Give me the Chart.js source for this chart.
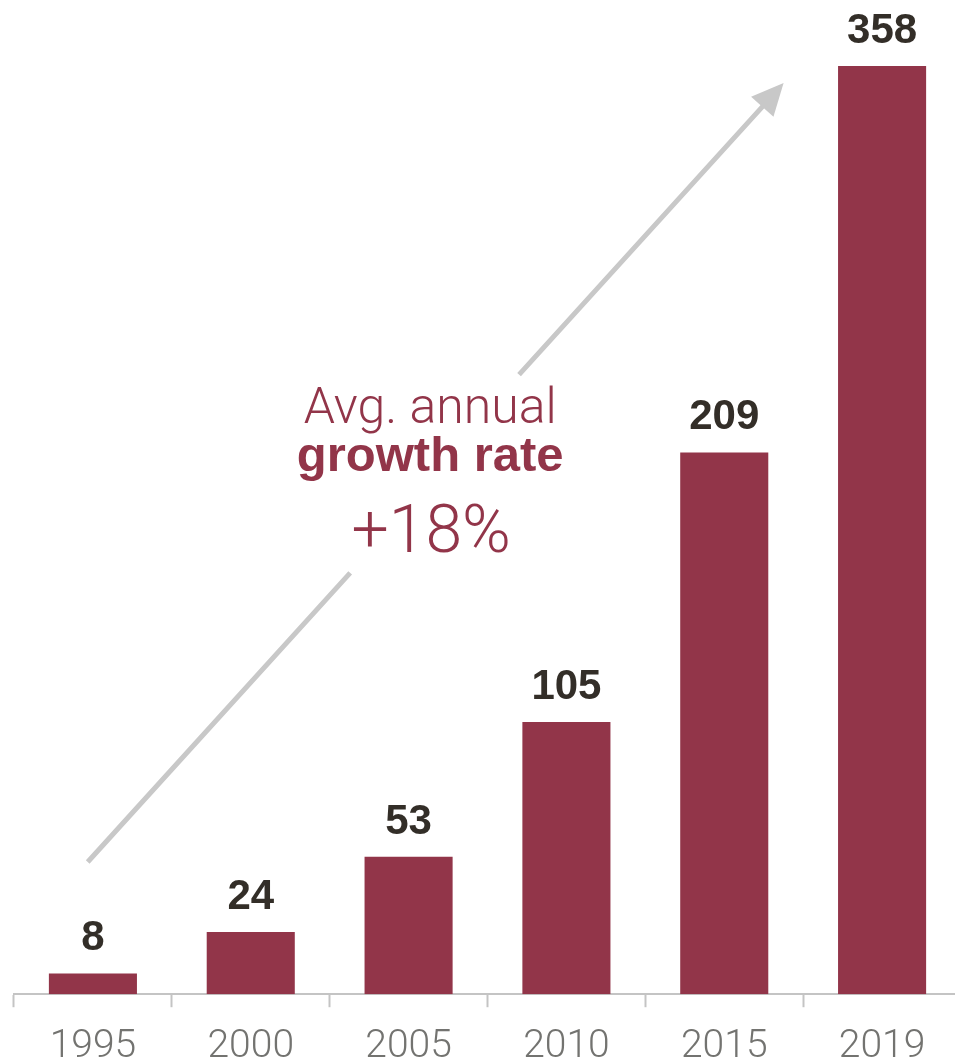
<!DOCTYPE html>
<html>
<head>
<meta charset="utf-8">
<script src="https://cdn.jsdelivr.net/npm/chart.js@4.4.1/dist/chart.umd.min.js"></script>
<style>
  html, body { margin: 0; padding: 0; background: #ffffff; overflow: hidden; }
  canvas { display: block; }
</style>
</head>
<body>
<canvas id="c" width="961" height="1088" style="width:961px;height:1088px"></canvas>
<script>
const categories = ["1995", "2000", "2005", "2010", "2015", "2019"];
const values = [8, 24, 53, 105, 209, 358];
const annotationLines = ["Avg. annual", "growth rate", "+18%"];

const barColor = "#923549";
const labelColor = "#332e28";
const axisColor = "#c4c4c4";
const tickColor = "#737370";
const arrowColor = "#c8c8c8";

const valueLabels = {
  id: "valueLabels",
  afterDatasetsDraw(chart) {
    const ctx = chart.ctx;
    const meta = chart.getDatasetMeta(0);
    ctx.save();
    ctx.font = "bold 42px 'Liberation Sans', Arial, sans-serif";
    ctx.fillStyle = labelColor;
    ctx.textAlign = "center";
    ctx.textBaseline = "alphabetic";
    meta.data.forEach((bar, i) => {
      ctx.fillText(String(values[i]), bar.x, bar.y - 23);
    });
    ctx.restore();
  }
};

const growthArrow = {
  id: "growthArrow",
  afterDatasetsDraw(chart) {
    const xs = chart.scales.x, ys = chart.scales.y;
    const P = (i, v) => [xs.getPixelForValue(i), ys.getPixelForValue(v)];
    const ctx = chart.ctx;
    const s = P(-0.033, 51);
    const tip = P(4.376, 351.5);
    const gapA = P(1.63, 162.5);
    const gapB = P(2.70, 239);
    const dx = tip[0] - s[0], dy = tip[1] - s[1];
    const len = Math.hypot(dx, dy);
    const ux = dx / len, uy = dy / len;
    const headLen = 32, headHalf = 15;
    const base = [tip[0] - ux * headLen, tip[1] - uy * headLen];
    ctx.save();
    ctx.strokeStyle = arrowColor;
    ctx.fillStyle = arrowColor;
    ctx.lineWidth = 5;
    ctx.lineCap = "butt";
    ctx.beginPath();
    ctx.moveTo(s[0], s[1]); ctx.lineTo(gapA[0], gapA[1]);
    ctx.moveTo(gapB[0], gapB[1]); ctx.lineTo(base[0] + ux * 2, base[1] + uy * 2);
    ctx.stroke();
    ctx.beginPath();
    ctx.moveTo(tip[0], tip[1]);
    ctx.lineTo(base[0] - uy * headHalf, base[1] + ux * headHalf);
    ctx.lineTo(base[0] + uy * headHalf, base[1] - ux * headHalf);
    ctx.closePath();
    ctx.fill();

    // annotation text
    ctx.fillStyle = barColor;
    ctx.textAlign = "center";
    ctx.textBaseline = "alphabetic";
    const cx = xs.getPixelForValue(2.137);
    ctx.font = "300 50px Roboto, 'Liberation Sans', sans-serif";
    ctx.fillText(annotationLines[0], cx, ys.getPixelForValue(220.5));
    ctx.font = "bold 49px 'Liberation Sans', Arial, sans-serif";
    ctx.fillText(annotationLines[1], cx, ys.getPixelForValue(202));
    ctx.font = "300 66px Roboto, 'Liberation Sans', sans-serif";
    ctx.fillText(annotationLines[2], cx + 1, ys.getPixelForValue(170.5));
    ctx.restore();
  }
};

new Chart(document.getElementById("c"), {
  type: "bar",
  data: {
    labels: categories,
    datasets: [{
      data: values,
      backgroundColor: barColor,
      borderWidth: 0,
      categoryPercentage: 1.0,
      barPercentage: 0.558
    }]
  },
  options: {
    responsive: false,
    animation: false,
    events: [],
    layout: { padding: { left: 14, right: 0, top: 0, bottom: 0 } },
    plugins: { legend: { display: false }, tooltip: { enabled: false } },
    scales: {
      x: {
        offset: true,
        grid: {
          display: true,
          offset: true,
          drawOnChartArea: false,
          drawTicks: true,
          tickLength: 13,
          tickColor: axisColor,
          tickWidth: 2,
          color: axisColor
        },
        border: { display: true, color: axisColor, width: 2 },
        ticks: {
          color: tickColor,
          font: { family: "Roboto, 'Liberation Sans', sans-serif", size: 39, weight: 300 },
          padding: 17,
          maxRotation: 0,
          autoSkip: false
        }
      },
      y: {
        display: false,
        min: 0,
        max: 383.5
      }
    }
  },
  plugins: [valueLabels, growthArrow]
});
</script>
</body>
</html>
